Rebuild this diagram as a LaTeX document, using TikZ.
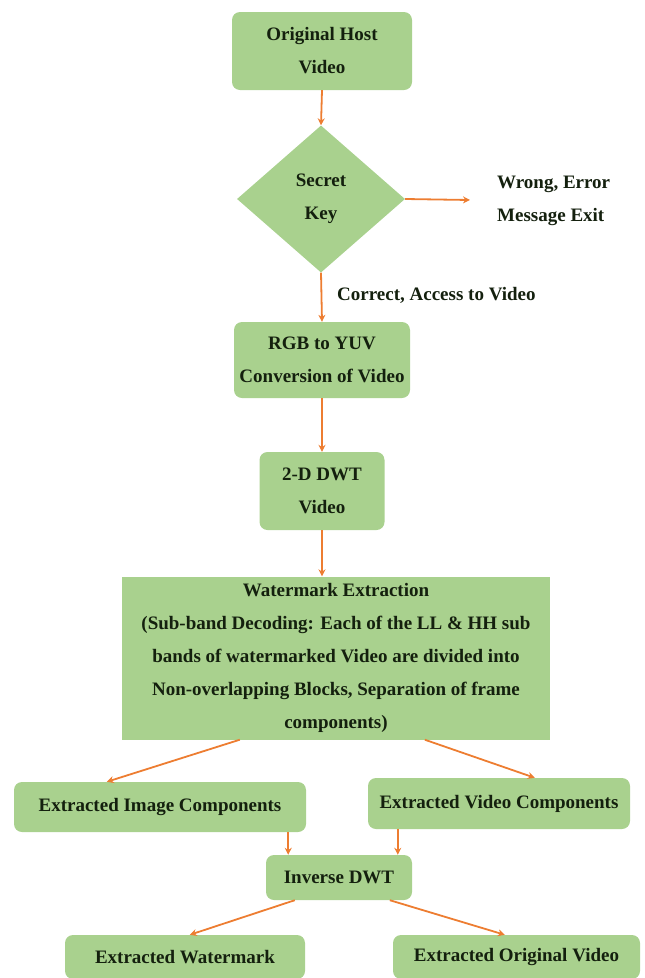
\documentclass[tikz,border=0pt]{standalone}
\usepackage{fontspec}
\setmainfont{Liberation Serif}
\usetikzlibrary{shapes.geometric,arrows.meta}
\definecolor{boxgreen}{HTML}{A9D18E}
\definecolor{arroworange}{HTML}{ED7D31}
\definecolor{txt}{HTML}{14200E}
\begin{document}
\begin{tikzpicture}[x=1pt,y=-1pt,
  every node/.style={font=\fontsize{19}{33}\selectfont\bfseries, text=txt},
  rbox/.style={fill=boxgreen, rounded corners=8pt, align=center, inner sep=0pt},
  sbox/.style={fill=boxgreen, align=center, inner sep=0pt},
  conn/.style={draw=arroworange, line width=1.8pt, -{Stealth[length=7pt,width=7pt]}},
  lbl/.style={align=left, inner sep=0pt}]
\useasboundingbox (0,0) rectangle (645,978);

\node[rbox, minimum width=180, minimum height=78] (orig) at (322,51) {Original Host\\Video};
\node[diamond, fill=boxgreen, minimum width=168, minimum height=147, inner sep=0pt, align=center] (key) at (321,199) {Secret\\Key};
\node[rbox, minimum width=176, minimum height=76] (rgb) at (322,360) {RGB to YUV\\Conversion of Video};
\node[rbox, minimum width=125, minimum height=78] (dwt) at (322,491) {2-D DWT\\Video};
\node[sbox, minimum width=428, minimum height=163] (we) at (336,658) {Watermark Extraction\\(Sub-band Decoding: Each of the LL \& HH sub\\bands of watermarked Video are divided into\\Non-overlapping Blocks, Separation of frame\\components)};
\node[rbox, minimum width=292, minimum height=50] (eic) at (160,807) {Extracted Image Components};
\node[rbox, minimum width=262, minimum height=51] (evc) at (499,803.5) {Extracted Video Components};
\node[rbox, minimum width=146, minimum height=45] (idwt) at (339,877.5) {Inverse DWT};
\node[rbox, minimum width=240, minimum height=44] (ew) at (185,957) {Extracted Watermark};
\node[rbox, minimum width=247, minimum height=44] (eov) at (516.5,957) {Extracted Original Video};

\node[lbl, anchor=west] (wrong) at (497,201) {Wrong, Error\\Message Exit};
\coordinate (wrongend) at (470,200);
\node[lbl, anchor=west] (correct) at (337,295) {Correct, Access to Video};

\draw[conn] (orig.south) -- (key.north);
\draw[conn] (key.east) -- (wrongend);
\draw[conn] (key.south) -- (rgb.north);
\draw[conn] (rgb.south) -- (dwt.north);
\draw[conn] (dwt.south) -- (dwt.south |- we.north);
\draw[conn] ([xshift=118]we.south west) -- ([xshift=93]eic.north west);
\draw[conn] ([xshift=303]we.south west) -- ([xshift=167]evc.north west);
\draw[conn] ([xshift=-18]eic.south east) -- ([xshift=-18]eic.south east |- idwt.north);
\draw[conn] ([xshift=30]evc.south west) -- ([xshift=30]evc.south west |- idwt.north);
\draw[conn] ([xshift=29]idwt.south west) -- ([xshift=125]ew.north west);
\draw[conn] ([xshift=124]idwt.south west) -- ([xshift=112]eov.north west);
\end{tikzpicture}
\end{document}
